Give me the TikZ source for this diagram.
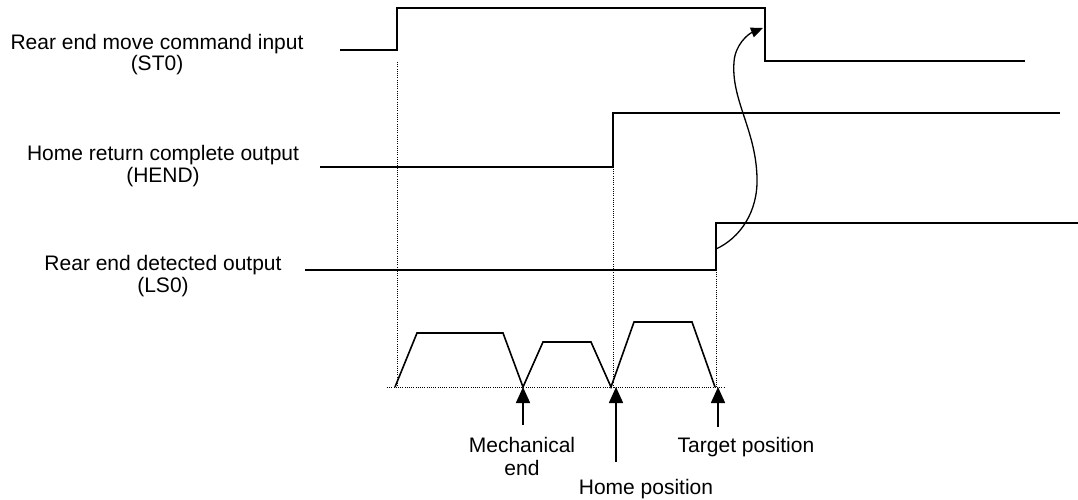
\documentclass[tikz,border=0pt]{standalone}
\usepackage{fontspec}
\setmainfont{Liberation Sans}
\usetikzlibrary{arrows.meta}
\begin{document}
\begin{tikzpicture}[x=1pt,y=-1pt,
  sig/.style={line width=1.6pt, line join=miter},
  guide/.style={line width=1pt, dash pattern=on 1pt off 1.2pt},
  lbl/.style={font=\fontsize{21}{22}\selectfont, inner sep=0pt, anchor=base},
  upar/.style={line width=1.6pt, -{Triangle[length=16pt,width=14pt]}},
  curvar/.style={line width=1.3pt, -{Triangle[length=12pt,width=10pt]}},
]
\useasboundingbox (0,0) rectangle (1078,500);

% ---- labels ----
\node[lbl] (l1a) at (157,50) {Rear end move command input};
\node[lbl] (l1b) at (157,71) {(ST0)};
\node[lbl] (l2a) at (163,160) {Home return complete output};
\node[lbl] (l2b) at (163,182) {(HEND)};
\node[lbl] (l3a) at (163,270) {Rear end detected output};
\node[lbl] (l3b) at (163,292) {(LS0)};

\node[lbl] (me1) at (522,452) {Mechanical};
\node[lbl] (me2) at (522,475) {end};
\node[lbl] (hp)  at (646,494) {Home position};
\node[lbl] (tp)  at (746,452) {Target position};

% ---- coordinates ----
\coordinate (st0a) at (340,50);
\coordinate (st0b) at (397,50);
\coordinate (st0c) at (397,8);
\coordinate (st0d) at (765,8);
\coordinate (st0e) at (765,61);
\coordinate (st0f) at (1025,61);

\coordinate (hda) at (320,167);
\coordinate (hdb) at (613,167);
\coordinate (hdc) at (613,113);
\coordinate (hdd) at (1060,113);

\coordinate (lsa) at (305,270);
\coordinate (lsb) at (716,270);
\coordinate (lsc) at (716,223);
\coordinate (lsd) at (1078,223);

\coordinate (base0) at (387,387);
\coordinate (base1) at (725,387);

% ---- signals ----
\draw[sig] (st0a) -- (st0b) -- (st0c) -- (st0d) -- (st0e) -- (st0f);
\draw[sig] (hda) -- (hdb) -- (hdc) -- (hdd);
\draw[sig] (lsa) -- (lsb) -- (lsc) -- (lsd);

% ---- dotted guides ----
\coordinate (g1t) at (397,62);  \coordinate (g1b) at (397,387);
\coordinate (g2t) at (613,169); \coordinate (g2b) at (613,387);
\coordinate (g3t) at (716,272); \coordinate (g3b) at (716,387);
\draw[guide] (g1t) -- (g1b);
\draw[guide] (g2t) -- (g2b);
\draw[guide] (g3t) -- (g3b);
\draw[guide] (base0) -- (base1);

% ---- speed profile ----
\draw[sig] (395,387) -- (417,333) -- (503,333) -- (523,387)
  -- (543,342) -- (591,342) -- (611,387)
  -- (634,322) -- (692,322) -- (715,387);

% ---- position arrows ----
\coordinate (a1s) at (523,425); \coordinate (a1e) at (523,387);
\coordinate (a2s) at (616,462); \coordinate (a2e) at (616,387);
\coordinate (a3s) at (718,427); \coordinate (a3e) at (718,387);
\draw[upar] (a1s) -- (a1e);
\draw[upar] (a2s) -- (a2e);
\draw[upar] (a3s) -- (a3e);

% ---- curved arrow from LS0 to ST0 ----
\coordinate (cs) at (716,249);
\coordinate (cm1) at (757,178);
\coordinate (cm2) at (734,62);
\coordinate (ce) at (763,28);
\draw[curvar] (cs) .. controls (740,238) and (758,212) .. (cm1)
  .. controls (756,130) and (731,100) .. (cm2)
  .. controls (735,45) and (748,34) .. (ce);
\end{tikzpicture}
\end{document}
